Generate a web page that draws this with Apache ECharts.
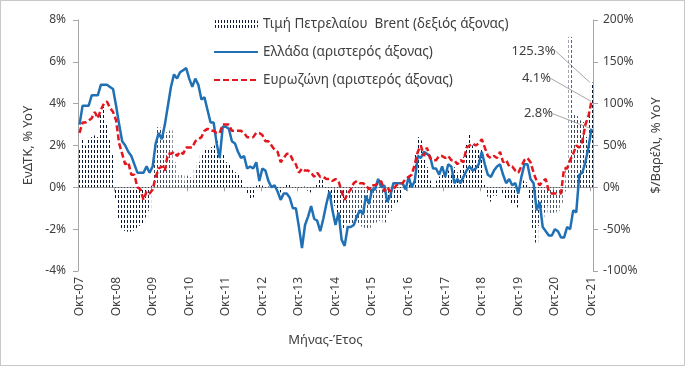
<!DOCTYPE html>
<html>
<head>
<meta charset="utf-8">
<script src="https://cdn.jsdelivr.net/npm/echarts@6/dist/echarts.min.js"></script>
<style>
html,body{margin:0;padding:0;background:#fff;}
#chart{position:absolute;left:0;top:0;width:687px;height:367px;}
#frame{position:absolute;left:0;top:0;width:683px;height:364px;border:1px solid #c8c8c8;pointer-events:none;}
</style>
</head>
<body>
<div id="chart"></div>
<div id="frame"></div>
<script>
// ---- DATA (monthly, Oct 2007 – Oct 2021) ----
const startYear = 2007;
const startMonth = 9; // October (0-based)
const monthNames = ['Ιαν','Φεβ','Μαρ','Απρ','Μαϊ','Ιουν','Ιουλ','Αυγ','Σεπ','Οκτ','Νοε','Δεκ'];

// Greece HICP, % YoY (left axis)
const greece = [
  3.0, 3.9, 3.9,
  3.9, 4.4, 4.4, 4.4, 4.9, 4.9, 4.9, 4.8, 4.7, 3.9, 3.0, 2.2,
  2.0, 1.7, 1.5, 1.1, 0.7, 0.7, 0.7, 1.0, 0.7, 1.0, 2.1, 2.6,
  2.3, 3.0, 3.9, 4.8, 5.4, 5.2, 5.5, 5.6, 5.7, 5.2, 4.8, 5.2,
  4.9, 4.2, 4.3, 3.7, 3.1, 3.1, 2.1, 1.4, 2.9, 2.9, 2.8, 2.2,
  2.1, 1.7, 1.4, 1.5, 0.9, 1.0, 0.9, 1.2, 0.3, 0.9, 0.8, 0.3,
  0.0, 0.1, -0.2, -0.6, -0.3, -0.3, -0.5, -1.0, -1.0, -1.9, -2.9, -1.8,
  -1.4, -0.9, -1.5, -1.6, -2.1, -1.5, -0.8, -0.2, -1.1, -1.8, -1.2, -2.5,
  -2.8, -1.9, -1.9, -1.8, -1.4, -1.1, -1.3, -0.4, -0.8, -0.1, -0.1, 0.4,
  0.0, 0.1, -0.7, -0.4, 0.2, 0.2, 0.2, 0.2, -0.1, 0.5, 0.0, 0.3,
  1.5, 1.4, 1.7, 1.6, 1.5, 0.9, 0.9, 0.6, 1.0, 0.5, 1.1, 1.0,
  0.2, 0.4, 0.2, 0.5, 0.8, 1.0, 0.8, 0.9, 1.1, 1.7, 1.1, 0.6,
  0.5, 0.8, 1.0, 1.1, 0.6, 0.2, 0.4, 0.1, 0.2, -0.3, 0.5, 1.1,
  1.1, 0.4, 0.2, -1.1, -0.7, -1.9, -2.1, -2.3, -2.3, -2.0, -2.1, -2.4,
  -2.4, -1.9, -2.0, -1.1, -1.2, 0.6, 0.7, 1.2, 1.9, 2.8
];

// Euro area HICP, % YoY (left axis)
const eurozone = [
  2.6, 3.1, 3.1,
  3.2, 3.3, 3.6, 3.3, 3.7, 4.0, 4.1, 3.8, 3.6, 3.2, 2.1, 1.6,
  1.1, 1.2, 0.6, 0.6, 0.0, -0.1, -0.6, -0.2, -0.3, -0.1, 0.5, 0.9,
  1.0, 0.8, 1.6, 1.6, 1.7, 1.5, 1.7, 1.6, 1.9, 1.9, 1.9, 2.2,
  2.3, 2.4, 2.7, 2.8, 2.7, 2.7, 2.6, 2.6, 3.0, 3.0, 3.0, 2.7,
  2.7, 2.7, 2.7, 2.6, 2.4, 2.4, 2.4, 2.6, 2.6, 2.5, 2.2, 2.2,
  2.0, 1.8, 1.7, 1.2, 1.4, 1.6, 1.6, 1.3, 1.1, 0.7, 0.9, 0.8,
  0.8, 0.7, 0.5, 0.7, 0.5, 0.5, 0.4, 0.4, 0.3, 0.4, 0.3, -0.2,
  -0.6, -0.3, -0.1, 0.2, 0.3, 0.2, 0.2, 0.1, -0.1, 0.1, 0.1, 0.2,
  0.3, -0.2, 0.0, -0.2, -0.1, 0.1, 0.2, 0.2, 0.4, 0.5, 0.6, 1.1,
  1.7, 2.0, 1.5, 1.9, 1.4, 1.3, 1.3, 1.5, 1.5, 1.4, 1.5, 1.3,
  1.3, 1.1, 1.3, 1.2, 1.9, 2.0, 2.1, 2.0, 2.1, 2.3, 1.9, 1.5,
  1.4, 1.5, 1.4, 1.7, 1.2, 1.3, 1.0, 1.0, 0.8, 0.7, 1.0, 1.3,
  1.4, 1.2, 0.7, 0.3, 0.1, 0.3, 0.4, -0.2, -0.3, -0.3, -0.3, -0.3,
  0.9, 0.9, 1.3, 1.6, 2.0, 1.9, 2.2, 3.0, 3.4, 4.1
];

// Brent oil price, $/barrel % YoY (right axis)
const brent = [
  45, 57, 50,
  58, 60, 62, 60, 88, 96, 75, 58, 40, -15, -38, -50,
  -52, -53, -53, -52, -50, -46, -44, -36, -28, 2, 50, 72,
  70, 63, 66, 68, 30, 9, 15, 6, 14, 12, 10, 22,
  30, 40, 45, 47, 48, 50, 55, 42, 40, 30, 28, 22,
  18, 15, 10, -3, -8, -15, -12, 2, 3, 2, -2, 1,
  2, -3, -5, -6, -3, 4, 3, -2, -1, -2, -1, 1,
  -4, -6, -1, 5, 9, 10, -1, -9, -13, -22, -30, -48,
  -50, -44, -45, -44, -42, -45, -47, -51, -50, -45, -42, -40,
  -38, -42, -31, -28, -20, -18, -13, -3, -4, 3, 2, 40,
  60, 56, 35, 24, 8, -3, 8, 13, 17, 14, 20, 15,
  24, 18, 22, 36, 53, 65, 50, 45, 46, 45, 3, -11,
  -17, -10, -10, -3, -7, -14, -15, -19, -20, -24, -3, 8,
  6, -13, -50, -66, -46, -36, -30, -22, -33, -30, -28, -20,
  -5, 25, 180, 88, 85, 80, 78, 60, 90, 125.3
];

const seriesNames = ['Τιμή Πετρελαίου  Brent (δεξιός άξονας)', 'Ελλάδα (αριστερός άξονας)', 'Ευρωζώνη (αριστερός άξονας)'];

// ---- build categories ----
const categories = greece.map(function (_, i) {
  const m = (startMonth + i) % 12;
  const y = startYear + Math.floor((startMonth + i) / 12);
  return monthNames[m] + '-' + String(y % 100).padStart(2, '0');
});
const last = greece.length - 1;

// hatch pattern for Brent bars
const pc = document.createElement('canvas');
pc.width = 3; pc.height = 5;
const pctx = pc.getContext('2d');
pctx.fillStyle = '#0a1830';
pctx.fillRect(1, 0, 1, 3);

const FONT = '"Noto Sans", "DejaVu Sans", sans-serif';
const TXT = '#404040';
const AX = '#a6a6a6';
const CLEAR = 'rgba(0,0,0,0)';

const chart = echarts.init(document.getElementById('chart'), null, { renderer: 'canvas' });

function withLastLabel(arr, text) {
  return arr.map(function (v, i) {
    return i === last ? { value: v, label: { show: true, formatter: text } } : v;
  });
}

chart.setOption({
  animation: false,
  textStyle: { fontFamily: FONT, color: TXT },
  legend: {
    orient: 'vertical',
    left: 208,
    top: 12,
    itemWidth: 44,
    itemHeight: 8,
    itemGap: 14,
    textStyle: { fontFamily: FONT, fontSize: 13.5, color: TXT },
    data: [
      { name: seriesNames[0] },
      { name: seriesNames[1], itemStyle: { color: CLEAR, borderWidth: 0, opacity: 0 } },
      { name: seriesNames[2], itemStyle: { color: CLEAR, borderWidth: 0, opacity: 0 } }
    ]
  },
  grid: { left: 78, right: 94, top: 20, bottom: 96 },
  xAxis: [
    {
      type: 'category',
      data: categories,
      position: 'bottom',
      boundaryGap: true,
      axisLine: { show: false, onZero: false },
      axisTick: { show: false },
      axisLabel: { interval: 11, rotate: 90, margin: 6, fontSize: 12, color: TXT, fontFamily: FONT },
      name: 'Μήνας-Έτος',
      nameLocation: 'middle',
      nameGap: 63,
      nameTextStyle: { fontSize: 13, color: TXT, fontFamily: FONT, padding: [0, 20, 0, 0] }
    },
    {
      type: 'category',
      data: categories,
      position: 'bottom',
      boundaryGap: true,
      axisLine: { show: true, onZero: true, lineStyle: { color: AX, width: 1 } },
      axisTick: { show: true, interval: 11, length: 4, lineStyle: { color: AX } },
      axisLabel: { show: false }
    }
  ],
  yAxis: [
    {
      type: 'value',
      min: -4, max: 8, interval: 2,
      position: 'left',
      axisLine: { show: true, lineStyle: { color: AX } },
      axisTick: { show: true, length: 5, lineStyle: { color: AX } },
      splitLine: { show: false },
      axisLabel: { formatter: '{value}%', fontSize: 12, margin: 12, color: TXT, fontFamily: FONT },
      name: 'ΕνΔΤΚ, % YoY',
      nameLocation: 'middle',
      nameRotate: 90,
      nameGap: 40,
      nameTextStyle: { fontSize: 13, color: TXT, fontFamily: FONT }
    },
    {
      type: 'value',
      min: -100, max: 200, interval: 50,
      position: 'right',
      axisLine: { show: true, lineStyle: { color: AX } },
      axisTick: { show: true, length: 5, lineStyle: { color: AX } },
      splitLine: { show: false },
      axisLabel: { formatter: '{value}%', fontSize: 12, margin: 10, color: TXT, fontFamily: FONT },
      name: '$/Βαρέλι, % YoY',
      nameLocation: 'middle',
      nameRotate: 90,
      nameGap: 57,
      nameTextStyle: { fontSize: 13, color: TXT, fontFamily: FONT }
    }
  ],
  series: [
    {
      name: seriesNames[0],
      type: 'bar',
      xAxisIndex: 0,
      yAxisIndex: 1,
      data: withLastLabel(brent, '125.3%'),
      barCategoryGap: '0%',
      itemStyle: { color: { image: pc, repeat: 'repeat' } },
      label: { show: false, position: 'top', fontSize: 13, color: TXT, fontFamily: FONT },
      labelLine: { show: true, lineStyle: { color: AX, width: 1 } },
      labelLayout: { dx: -58, dy: -20 },
      z: 1
    },
    {
      name: seriesNames[1],
      type: 'line',
      xAxisIndex: 0,
      yAxisIndex: 0,
      data: withLastLabel(greece, '2.8%'),
      symbol: 'circle',
      symbolSize: 1,
      showSymbol: true,
      showAllSymbol: true,
      lineStyle: { color: '#1f70b5', width: 2.5 },
      itemStyle: { color: CLEAR },
      label: { show: false, position: 'top', fontSize: 13, color: TXT, fontFamily: FONT },
      labelLine: { show: true, lineStyle: { color: AX, width: 1 } },
      labelLayout: { dx: -53, dy: -3 },
      z: 3
    },
    {
      name: seriesNames[2],
      type: 'line',
      xAxisIndex: 0,
      yAxisIndex: 0,
      data: withLastLabel(eurozone, '4.1%'),
      symbol: 'circle',
      symbolSize: 1,
      showSymbol: true,
      showAllSymbol: true,
      lineStyle: { color: '#e3161e', width: 2.5, type: [6, 3] },
      itemStyle: { color: CLEAR },
      label: { show: false, position: 'top', fontSize: 13, color: TXT, fontFamily: FONT },
      labelLine: { show: true, lineStyle: { color: AX, width: 1 } },
      labelLayout: { dx: -55, dy: -11 },
      z: 4
    }
  ]
});
</script>
</body>
</html>
